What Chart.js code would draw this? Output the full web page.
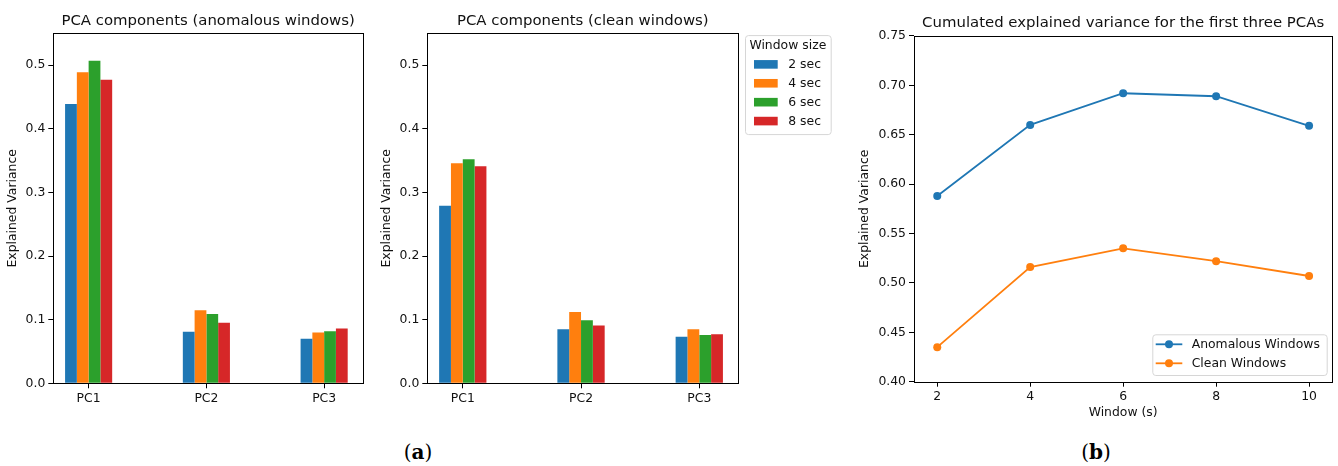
<!DOCTYPE html>
<html>
<head>
<meta charset="utf-8">
<script src="https://cdn.jsdelivr.net/npm/chart.js@4.4.1/dist/chart.umd.min.js"></script>
<style>
  html, body { margin: 0; padding: 0; background: #fff; }
  body { position: relative; width: 1338px; height: 466px; overflow: hidden; }
  canvas { position: absolute; top: 0; }
  .cap { position: absolute; top: 442px; line-height: 20px; font-family: "DejaVu Serif", "Liberation Serif", serif;
         font-size: 20px; color: #000; transform: translateX(-50%); white-space: nowrap; }
  .cap b { font-weight: bold; }
</style>
</head>
<body>
<canvas id="anomChart" width="367" height="430" style="left:0px"></canvas>
<canvas id="cleanChart" width="470" height="430" style="left:372px"></canvas>
<canvas id="cumChart" width="488" height="430" style="left:850px"></canvas>
<div class="cap" style="left:418px">(<b>a</b>)</div>
<div class="cap" style="left:1096px">(<b>b</b>)</div>

<script>
// Principal components and window sizes
const components = ['PC1', 'PC2', 'PC3'];
const windowSizes = ['2 sec', '4 sec', '6 sec', '8 sec'];

// Explained variance per component, anomalous windows
const anom2 = [0.439, 0.081, 0.070];
const anom4 = [0.489, 0.115, 0.080];
const anom6 = [0.507, 0.109, 0.082];
const anom8 = [0.477, 0.095, 0.086];

// Explained variance per component, clean windows
const clean2 = [0.279, 0.085, 0.073];
const clean4 = [0.346, 0.112, 0.085];
const clean6 = [0.352, 0.099, 0.076];
const clean8 = [0.341, 0.091, 0.077];

// Cumulated explained variance of the first three PCs vs window length
const windowSeconds = [2, 4, 6, 8, 10];
const cumAnomalous = [0.588, 0.660, 0.692, 0.689, 0.659];
const cumClean = [0.435, 0.516, 0.535, 0.522, 0.507];

// Tick values
const barXTicks = [0, 1, 2];
const barYTicks = [0, 0.1, 0.2, 0.3, 0.4, 0.5];
const lineXTicks = [2, 4, 6, 8, 10];
const lineYTicks = [0.40, 0.45, 0.50, 0.55, 0.60, 0.65, 0.70, 0.75];

const palette = ['#1f77b4', '#ff7f0e', '#2ca02c', '#d62728'];
const FONT = 'DejaVu Sans';
const TEXT = '#111';
const LABEL_SIZE = 12.4;
const TITLE_SIZE = 14.9;

Chart.defaults.font.family = FONT;
Chart.defaults.color = TEXT;
Chart.defaults.animation = false;

// Black frame around the plotting area
const framePlugin = {
  id: 'frame',
  afterDatasetsDraw(chart) {
    const { ctx, chartArea: a } = chart;
    ctx.save();
    ctx.strokeStyle = '#000';
    ctx.lineWidth = 1;
    const l = Math.round(a.left) + 0.5, t = Math.round(a.top) + 0.5;
    const r = Math.round(a.right) + 0.5, b = Math.round(a.bottom) + 0.5;
    ctx.strokeRect(l, t, r - l, b - t);
    ctx.restore();
  }
};

function fixedTicks(values) {
  return scale => { scale.ticks = values.map(v => ({ value: v })); };
}

function axisCommon(ticks, callback, fit, fitKey, titleText, titlePad) {
  const cfg = {
    grid: { display: true, offset: false, drawOnChartArea: false, drawTicks: true, tickLength: 5, color: '#000', lineWidth: 1 },
    border: { display: false },
    ticks: { padding: 3, color: TEXT, font: { size: LABEL_SIZE, family: FONT }, autoSkip: false, maxRotation: 0, callback },
    afterBuildTicks: fixedTicks(ticks),
    afterFit: s => { s[fitKey] = fit; }
  };
  if (titleText) {
    cfg.title = { display: true, text: titleText, color: TEXT, font: { size: LABEL_SIZE, family: FONT, lineHeight: 1.2 }, padding: titlePad };
  }
  return cfg;
}

function titleOpts(text) {
  return {
    display: true, text, color: TEXT, fullSize: false,
    font: { size: TITLE_SIZE, family: FONT, weight: 'normal', lineHeight: 1.2 },
    padding: { top: 0, bottom: 3.7 }
  };
}

function barChart(id, title, series, opts) {
  const datasets = series.map((vals, k) => ({
    label: windowSizes[k],
    data: vals.map((v, i) => ({ x: i, y: v })),
    backgroundColor: palette[k],
    borderWidth: 0,
    categoryPercentage: 0.4,
    barPercentage: 1.0
  }));
  return new Chart(document.getElementById(id), {
    type: 'bar',
    data: { datasets },
    options: {
      responsive: false,
      animation: false,
      layout: { padding: { top: 11.8, left: 0, right: opts.padRight, bottom: 0 } },
      plugins: {
        legend: { display: false },
        tooltip: { enabled: false },
        title: titleOpts(title)
      },
      scales: {
        x: Object.assign(axisCommon(barXTicks, (v, i) => components[i], 46.7, 'height'), {
          type: 'linear', min: -0.3, max: 2.33, offset: false
        }),
        y: Object.assign(axisCommon(barYTicks, v => v.toFixed(1), opts.yWidth, 'width', 'Explained Variance', { top: opts.yTitlePad, bottom: 0 }), {
          type: 'linear', min: 0, max: 0.55
        })
      }
    },
    plugins: opts.extra ? [framePlugin, opts.extra] : [framePlugin]
  });
}

// Legend for the window sizes, to the right of the clean-windows panel
const windowLegend = {
  id: 'windowLegend',
  afterDraw(chart) {
    const { ctx, chartArea: a } = chart;
    const x = a.right + 6.7, y = a.top + 1.7, w = 85.7, h = 99;
    ctx.save();
    ctx.beginPath();
    ctx.roundRect(x + 0.5, y + 0.5, w, h, 3);
    ctx.fillStyle = 'rgba(255,255,255,0.8)';
    ctx.fill();
    ctx.strokeStyle = '#d6d6d6';
    ctx.lineWidth = 1;
    ctx.stroke();
    ctx.font = LABEL_SIZE + 'px "' + FONT + '"';
    ctx.fillStyle = TEXT;
    ctx.textBaseline = 'middle';
    ctx.textAlign = 'center';
    ctx.fillText('Window size', x + w / 2, y + 10.7);
    ctx.textAlign = 'left';
    chart.data.datasets.forEach((ds, k) => {
      const cy = y + 29.3 + k * 18.9;
      ctx.fillStyle = ds.backgroundColor;
      ctx.fillRect(x + 9, cy - 4.3, 23.7, 8.6);
      ctx.fillStyle = TEXT;
      ctx.fillText(ds.label, x + 43.3, cy + 0.5);
    });
    ctx.restore();
  }
};

barChart('anomChart', 'PCA components (anomalous windows)', [anom2, anom4, anom6, anom8],
  { padRight: 4, yWidth: 53.3, yTitlePad: 5.3 });
barChart('cleanChart', 'PCA components (clean windows)', [clean2, clean4, clean6, clean8],
  { padRight: 103.7, yWidth: 55.3, yTitlePad: 7.3, extra: windowLegend });

// Legend inside the lower right corner of the cumulated-variance panel
const lineLegend = {
  id: 'lineLegend',
  afterDraw(chart) {
    const { ctx, chartArea: a } = chart;
    const w = 174.4, h = 40.7;
    const x = a.right - 5.6 - w, y = a.bottom - 6.7 - h;
    ctx.save();
    ctx.beginPath();
    ctx.roundRect(x + 0.5, y + 0.5, w, h, 3);
    ctx.fillStyle = 'rgba(255,255,255,0.8)';
    ctx.fill();
    ctx.strokeStyle = '#d6d6d6';
    ctx.lineWidth = 1;
    ctx.stroke();
    ctx.font = LABEL_SIZE + 'px "' + FONT + '"';
    ctx.textBaseline = 'middle';
    ctx.textAlign = 'left';
    chart.data.datasets.forEach((ds, k) => {
      const cy = y + 10 + k * 19;
      ctx.strokeStyle = ds.borderColor;
      ctx.lineWidth = 1.8;
      ctx.beginPath();
      ctx.moveTo(x + 3.4, cy);
      ctx.lineTo(x + 30, cy);
      ctx.stroke();
      ctx.fillStyle = ds.borderColor;
      ctx.beginPath();
      ctx.arc(x + 16.7, cy, 4, 0, Math.PI * 2);
      ctx.fill();
      ctx.fillStyle = TEXT;
      ctx.fillText(ds.label, x + 39.4, cy + 0.5);
    });
    ctx.restore();
  }
};

function lineSet(label, values, color) {
  return {
    label,
    data: values.map((v, i) => ({ x: windowSeconds[i], y: v })),
    borderColor: color,
    backgroundColor: color,
    pointBackgroundColor: color,
    pointBorderWidth: 0,
    pointRadius: 4,
    borderWidth: 1.8,
    tension: 0,
    fill: false
  };
}

new Chart(document.getElementById('cumChart'), {
  type: 'line',
  data: {
    datasets: [
      lineSet('Anomalous Windows', cumAnomalous, palette[0]),
      lineSet('Clean Windows', cumClean, palette[1])
    ]
  },
  options: {
    responsive: false,
    animation: false,
    layout: { padding: { top: 14.4, left: 0, right: 5.7, bottom: 0 } },
    plugins: {
      legend: { display: false },
      tooltip: { enabled: false },
      title: titleOpts('Cumulated explained variance for the first three PCAs')
    },
    scales: {
      x: Object.assign(axisCommon(lineXTicks, v => String(v), 48.3, 'height', 'Window (s)', { top: 0, bottom: 9.6 }), {
        type: 'linear', min: 1.5, max: 10.5
      }),
      y: Object.assign(axisCommon(lineYTicks, v => v.toFixed(2), 64, 'width', 'Explained Variance', { top: 7.6, bottom: 0 }), {
        type: 'linear', min: 0.40, max: 0.75
      })
    }
  },
  plugins: [framePlugin, lineLegend]
});
</script>
</body>
</html>
